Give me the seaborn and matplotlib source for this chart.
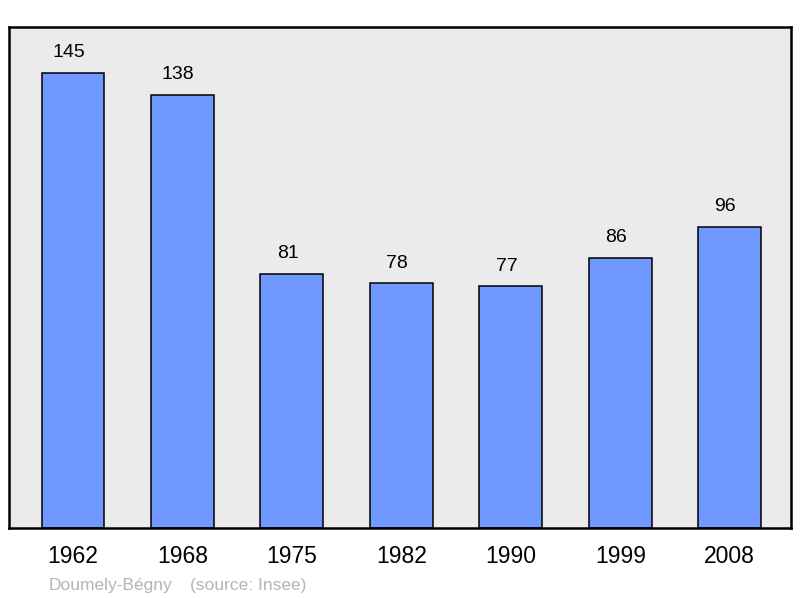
import matplotlib.pyplot as plt
import pandas as pd
import seaborn as sns

years = ["1962", "1968", "1975", "1982", "1990", "1999", "2008"]
population = [145, 138, 81, 78, 77, 86, 96]
commune = "Doumely-Bégny"
source = "(source: Insee)"

df = pd.DataFrame({"year": years, "population": population})

sns.set_theme(style="white")
plt.rcParams["font.family"] = ["Liberation Sans", "DejaVu Sans"]

fig = plt.figure(figsize=(8, 5.98), dpi=100)
ax = fig.add_axes([9 / 800, 1 - 528 / 598, 782 / 800, 501 / 598])
ax.set_facecolor("#ebebeb")

sns.barplot(
    data=df,
    x="year",
    y="population",
    ax=ax,
    color="#7099ff",
    saturation=1,
    width=0.575,
    edgecolor="black",
    linewidth=1.1,
)

for i, v in enumerate(population):
    ax.text(i - 0.04, v + 6.4, str(v), ha="center", va="center", fontsize=14, color="black")

ax.set_xlim(-0.585, 6.56)
ax.set_ylim(0, 159.6)
ax.set_yticks([])
ax.set_xlabel("")
ax.set_ylabel("")
ax.tick_params(axis="x", length=0, labelsize=16.5, pad=12, colors="black")
for s in ax.spines.values():
    s.set_visible(True)
    s.set_color("black")
    s.set_linewidth(1.8)

fig.text(49 / 800, 1 - 590 / 598, commune, fontsize=12.5, color="#b4b4b4", ha="left", va="baseline")
fig.text(190 / 800, 1 - 590 / 598, source, fontsize=12.5, color="#b4b4b4", ha="left", va="baseline")

fig.savefig("out.png", dpi=100)
plt.close(fig)
